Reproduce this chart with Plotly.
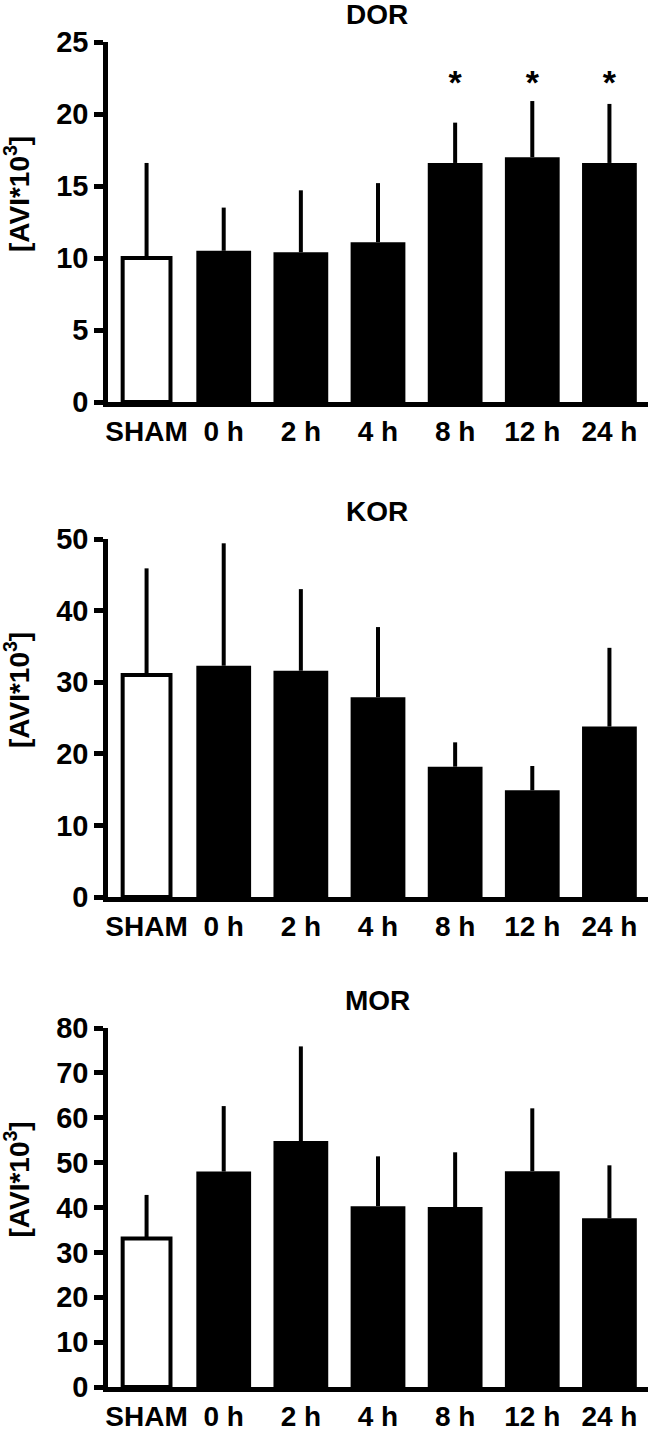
import plotly.graph_objects as go
from plotly.subplots import make_subplots

CATEGORIES = ["SHAM", "0 h", "2 h", "4 h", "8 h", "12 h", "24 h"]

# receptor signal, mean and upper SD
DOR_MEAN = [10.0, 10.5, 10.4, 11.1, 16.6, 17.0, 16.6]
DOR_SD = [6.6, 3.0, 4.3, 4.1, 2.8, 3.9, 4.1]
DOR_SIG = [False, False, False, False, True, True, True]

KOR_MEAN = [31.0, 32.3, 31.6, 27.9, 18.2, 14.9, 23.8]
KOR_SD = [14.9, 17.1, 11.4, 9.8, 3.4, 3.4, 11.0]
KOR_SIG = [False] * 7

MOR_MEAN = [33.1, 48.0, 54.8, 40.3, 40.1, 48.1, 37.6]
MOR_SD = [9.7, 14.6, 21.1, 11.1, 12.2, 14.0, 11.8]
MOR_SIG = [False] * 7

PANELS = [
    ("DOR", DOR_MEAN, DOR_SD, DOR_SIG, 25, 5, 22.0),
    ("KOR", KOR_MEAN, KOR_SD, KOR_SIG, 50, 10, 45),
    ("MOR", MOR_MEAN, MOR_SD, MOR_SIG, 80, 10, 72),
]

W, H = 651, 1429
FONT = "Liberation Sans, Arial, sans-serif"
# plot-area pixel boxes (top, bottom) per panel
PANEL_PX = [(42, 402), (539, 897), (1028, 1387)]
X_PX = (108, 648)

fig = make_subplots(rows=3, cols=1)

for i, (name, mean, sd, sig, ymax, dtick, star_y) in enumerate(PANELS, start=1):
    is_ctrl = [c == "SHAM" for c in CATEGORIES]
    fig.add_trace(go.Bar(
        x=CATEGORIES, y=mean,
        width=[0.62 if c else 0.71 for c in is_ctrl],
        marker=dict(
            color=["white" if c else "black" for c in is_ctrl],
            line=dict(color="black", width=[4 if c else 0 for c in is_ctrl]),
        ),
        error_y=dict(type="data", array=sd, arrayminus=[0] * len(sd),
                     symmetric=False, color="black", thickness=4, width=0),
        showlegend=False, hoverinfo="skip",
    ), row=i, col=1)

    stars = [c for c, s in zip(CATEGORIES, sig) if s]
    if stars:
        fig.add_trace(go.Scatter(
            x=stars, y=[star_y] * len(stars), mode="text", text=["*"] * len(stars),
            textposition="middle center",
            textfont=dict(family=FONT, size=34, color="black", weight="bold"),
            showlegend=False, hoverinfo="skip",
        ), row=i, col=1)

    top, bot = PANEL_PX[i - 1]
    fig.update_yaxes(
        domain=[1 - bot / H, 1 - top / H], range=[0, ymax], dtick=dtick,
        showline=True, linecolor="black", linewidth=4.5,
        ticks="outside", ticklen=9, tickwidth=4.5, tickcolor="black",
        showgrid=False, zeroline=False, automargin=False,
        tickfont=dict(family=FONT, size=29, color="black", weight="bold"),
        row=i, col=1,
    )
    fig.update_xaxes(
        domain=[X_PX[0] / W, X_PX[1] / W], range=[-0.5, 6.5],
        showline=True, linecolor="black", linewidth=5,
        ticks="", showgrid=False, zeroline=False, automargin=False,
        ticklabelstandoff=0,
        tickfont=dict(family=FONT, size=28, color="black", weight="bold"),
        row=i, col=1,
    )

    # panel title and y-axis label
    fig.add_annotation(
        text=name, xref="paper", yref="paper", x=377 / W, y=1 - (top - 28) / H,
        showarrow=False, xanchor="center", yanchor="middle",
        font=dict(family=FONT, size=28, color="black", weight="bold"),
    )
    fig.add_annotation(
        text="[AVI*10<sup>3</sup>]", xref="paper", yref="paper",
        x=17 / W, y=1 - ((top + bot) / 2 - 28) / H, textangle=-90,
        showarrow=False, xanchor="center", yanchor="middle",
        font=dict(family=FONT, size=28, color="black", weight="bold"),
    )

fig.update_layout(
    width=W, height=H,
    margin=dict(l=0, r=0, t=0, b=0),
    plot_bgcolor="white", paper_bgcolor="white",
    bargap=0.3, barmode="overlay",
)

fig.write_html("out.html", config={"displayModeBar": False})

# drop the browser's default body margin so the figure sits at the page origin
with open("out.html", encoding="utf-8") as f:
    page = f.read()
page = page.replace("<head>", "<head><style>body{margin:0;}</style>", 1)
with open("out.html", "w", encoding="utf-8") as f:
    f.write(page)
